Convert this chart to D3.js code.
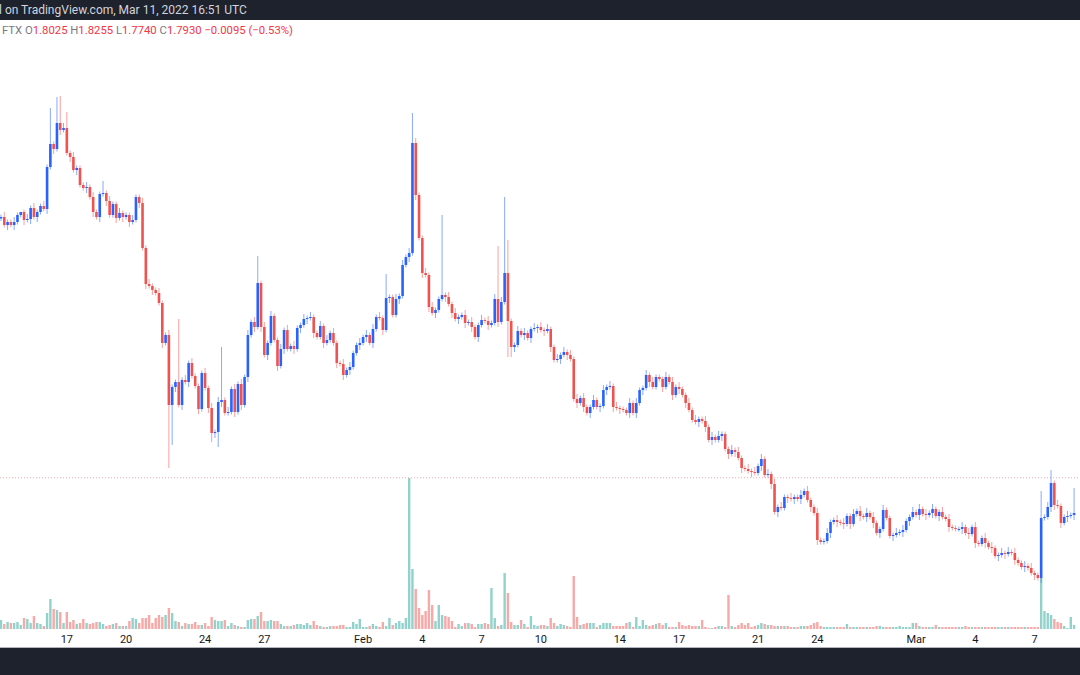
<!DOCTYPE html>
<html lang="en">
<head>
<meta charset="UTF-8">
<title>FTX 4h candles</title>
<script src="https://cdn.jsdelivr.net/npm/d3@7/dist/d3.min.js"></script>
<style>
  body { margin: 0; background: #fff; }
  svg { display: block; font-family: Roboto, "Liberation Sans", sans-serif; }
</style>
</head>
<body>
<svg id="main" width="1080" height="675"></svg>
<script>
// 4h candles, first one opens Jan 13 2022 16:00 UTC
const startTime = Date.UTC(2022, 0, 13, 16);
const firstOpen = 2.830;

const closes = [
  2.836,2.804,2.816,2.804,2.816,2.844,2.856,2.824,2.828,2.872,
  2.836,2.856,2.880,2.868,3.036,3.128,3.108,3.212,3.184,3.192,
  3.092,3.076,3.024,3.032,2.964,2.952,2.956,2.916,2.856,2.836,
  2.928,2.932,2.900,2.844,2.888,2.832,2.852,2.836,2.844,2.816,
  2.824,2.916,2.892,2.712,2.568,2.560,2.544,2.532,2.492,2.332,
  2.364,2.084,2.156,2.176,2.084,2.184,2.176,2.252,2.200,2.160,
  2.068,2.212,2.152,2.072,1.972,1.976,2.096,2.104,2.052,2.056,
  2.148,2.056,2.168,2.084,2.196,2.364,2.416,2.396,2.572,2.396,
  2.284,2.332,2.440,2.344,2.240,2.308,2.384,2.308,2.320,2.308,
  2.392,2.404,2.428,2.432,2.436,2.372,2.356,2.400,2.332,2.344,
  2.372,2.332,2.252,2.248,2.204,2.224,2.236,2.292,2.324,2.332,
  2.356,2.364,2.332,2.388,2.436,2.432,2.384,2.512,2.516,2.444,
  2.508,2.520,2.644,2.676,2.692,3.132,2.924,2.752,2.612,2.604,
  2.476,2.452,2.464,2.508,2.524,2.516,2.488,2.452,2.428,2.436,
  2.444,2.412,2.416,2.396,2.356,2.404,2.424,2.420,2.404,2.412,
  2.508,2.416,2.496,2.612,2.420,2.316,2.324,2.380,2.364,2.372,
  2.352,2.388,2.392,2.396,2.384,2.380,2.388,2.316,2.264,2.268,
  2.284,2.296,2.284,2.268,2.108,2.092,2.112,2.076,2.052,2.076,
  2.104,2.076,2.080,2.144,2.156,2.160,2.076,2.072,2.068,2.064,
  2.052,2.092,2.052,2.092,2.144,2.152,2.204,2.176,2.156,2.196,
  2.188,2.156,2.196,2.176,2.124,2.156,2.148,2.124,2.092,2.064,
  2.024,2.016,2.028,2.020,1.996,1.944,1.956,1.944,1.960,1.968,
  1.908,1.888,1.904,1.896,1.872,1.832,1.828,1.820,1.816,1.812,
  1.840,1.868,1.804,1.808,1.768,1.656,1.676,1.672,1.716,1.712,
  1.708,1.716,1.708,1.724,1.740,1.704,1.676,1.652,1.544,1.536,
  1.540,1.572,1.616,1.624,1.616,1.612,1.608,1.640,1.608,1.648,
  1.660,1.640,1.636,1.652,1.636,1.612,1.572,1.588,1.664,1.632,
  1.560,1.564,1.572,1.576,1.584,1.620,1.636,1.656,1.644,1.668,
  1.648,1.644,1.652,1.668,1.640,1.656,1.636,1.628,1.596,1.592,
  1.588,1.588,1.596,1.572,1.568,1.596,1.532,1.528,1.552,1.532,
  1.516,1.512,1.480,1.484,1.492,1.488,1.496,1.492,1.464,1.452,
  1.436,1.440,1.432,1.412,1.404,1.392,1.632,1.636,1.676,1.772,
  1.684,1.680,1.612,1.636,1.640,1.644,1.652
];

// upper / lower wick beyond the body, in 0.01 steps
const wickUp = "1211210121" + "2112131212" + "2121112121" + "1212112111" + "2112121121" +
  "1211212121" + "1121212112" + "1212121211" + "2121121212" + "1121211212" +
  "1211212112" + "1212121111" + "2121212112" + "1211212121" + "1212112121" +
  "2121211212" + "1121212112" + "1212121211" + "2112121211" + "1212112121" +
  "1121212112" + "1211212121" + "1121211212" + "1212121211" + "2112121121" +
  "1211212112" + "1212121121" + "1121211212" + "1212112121" + "1121212112" +
  "1211212121" + "1212112121" + "1211212";
const wickDn = "1121211212" + "1211212121" + "1212112121" + "2121121212" + "1121212112" +
  "1212121211" + "2112121211" + "1212121212" + "1211212112" + "1212121121" +
  "1121212112" + "1212112121" + "1211212121" + "2121121212" + "1212121121" +
  "1211212112" + "1212121211" + "2121121212" + "1121212121" + "1212121211" +
  "1211212121" + "1121212112" + "1212121121" + "1211212112" + "1212112121" +
  "1121212121" + "1212121211" + "1211212112" + "1212121121" + "1121212112" +
  "1212121121" + "1211212112" + "2121212";

// long wicks: index -> [high, low]
const longWicks = {
  15: [3.272, null], 17: [3.316, null], 18: [3.320, null], 20: [3.256, null],
  31: [2.980, null], 51: [null, 1.832], 52: [null, 1.924], 54: [2.428, null],
  64: [null, 1.936], 66: [null, 1.916], 67: [2.316, null], 78: [2.680, null],
  117: [2.608, null], 125: [3.252, null], 134: [2.844, null], 151: [2.720, null],
  153: [2.916, null], 154: [2.744, 2.276], 155: [null, 2.276],
  316: [1.740, null], 319: [1.824, null], 326: [1.752, null]
};

const volumes = [
  9,5,7,6,6,7,4,11,10,6, 13,6,5,3,16,30,20,19,17,6, 17,7,9,5,6,10,6,5,6,7,
  7,5,3,4,5,6,3,3,3,8, 11,10,6,11,11,14,6,11,14,12, 14,21,16,8,7,3,6,5,5,7,
  4,4,6,3,12,9,8,8,9,3, 6,4,3,2,2,9,10,10,13,17, 8,8,9,8,8,5,3,3,3,4,
  5,5,4,6,4,8,4,3,2,2, 3,3,3,4,4,2,2,7,5,10, 2,2,3,5,3,2,7,3,11,4,
  6,8,6,11,151,60,40,21,14,18, 39,24,8,24,14,13,12,8,2,5, 3,6,6,5,2,5,5,6,5,41,
  11,3,4,56,36,7,4,4,9,5, 2,13,4,3,
  4,4,3,11,6,3,5,4,3,2, 53,12,4,5,6,6,6,2,4,6, 6,6,3,3,3,3,6,7,2,12,
  3,9,4,3,4,5,6,4,6,2, 2,2,7,4,3,4,3,3,3,9, 2,1,1,2,3,3,2,34,3,2,
  4,6,4,6,2,3,4,6,5,4, 4,3,3,3,3,3,2,2,2,3, 3,3,4,6,7,3,2,2,2,2,
  2,2,2,5,2,2,2,2,2,2, 2,2,3,3,2,2,2,2,2,3, 2,2,2,6,6,3,2,2,2,2,
  4,2,2,2,2,2,2,2,2,3, 2,2,2,2,2,2,2,2,2,2, 2,2,2,2,2,2,2,2,2,2,
  2,2,51,18,16,14,10,7,6,3,1,12,4
];

const tickDates = [[0,17],[0,20],[0,24],[0,27],[1,1],[1,4],[1,7],[1,10],[1,14],[1,17],[1,21],[1,24],[2,1],[2,4],[2,7]];
const monthNames = ["Jan", "Feb", "Mar"];

const legendParts = [["FTX  ", "#787b86"], ["O", "#787b86"], ["1.8025 ", "#f23645"], ["H", "#787b86"], ["1.8255 ", "#f23645"],
  ["L", "#787b86"], ["1.7740 ", "#f23645"], ["C", "#787b86"], ["1.7930 ", "#f23645"], ["−0.0095 (−0.53%)", "#f23645"]];
const lastClose = 1.7930;

const H4 = 4 * 3600 * 1000;
const candles = closes.map((c, i) => {
  const o = i === 0 ? firstOpen : closes[i - 1];
  const lw = longWicks[i] || [null, null];
  const hi = lw[0] !== null ? lw[0] : Math.max(o, c) + (+wickUp[i] || 0) * 0.01;
  const lo = lw[1] !== null ? lw[1] : Math.min(o, c) - (+wickDn[i] || 0) * 0.01;
  return { t: new Date(startTime + i * H4), o, c, hi, lo, v: volumes[i] || 0 };
});

const svg = d3.select("#main");
const W = 1080;

const x = d3.scaleUtc()
  .domain([new Date(startTime), new Date(startTime + 55 * 24 * 3600 * 1000)])
  .range([1, 1 + 55 * 19.75]);
const y = d3.scaleLinear().domain([3.704, 1.004]).range([0, 675]);
const yv = d3.scaleLinear().domain([0, 151]).range([629, 478]);

const up = "#2962ff", down = "#ef5350";
const volUp = "#92d2cc", volDown = "#f7a9a7";

// volume
svg.append("g").selectAll("rect").data(candles).join("rect")
  .attr("x", d => x(d.t) - 1.2).attr("width", 2.4)
  .attr("y", d => yv(d.v)).attr("height", d => yv(0) - yv(d.v))
  .attr("fill", d => d.c >= d.o ? volUp : volDown);

// last price line
svg.append("line")
  .attr("x1", 0).attr("x2", W).attr("y1", y(lastClose)).attr("y2", y(lastClose))
  .attr("stroke", "#f7a9a7").attr("stroke-width", 1).attr("stroke-dasharray", "1,2");

// candles
const cg = svg.append("g");
cg.selectAll("line").data(candles).join("line")
  .attr("x1", d => x(d.t)).attr("x2", d => x(d.t))
  .attr("y1", d => y(d.hi)).attr("y2", d => y(d.lo))
  .attr("stroke", d => d.c >= d.o ? up : down).attr("stroke-opacity", 0.55).attr("stroke-width", 1);
cg.selectAll("rect").data(candles).join("rect")
  .attr("x", d => x(d.t) - 1.3).attr("width", 2.6)
  .attr("y", d => y(Math.max(d.o, d.c)))
  .attr("height", d => Math.max(1, Math.abs(y(d.o) - y(d.c))))
  .attr("fill", d => d.c >= d.o ? up : down);

// time axis labels
svg.append("g").selectAll("text").data(tickDates).join("text")
  .attr("x", d => x(new Date(Date.UTC(2022, d[0], d[1]))))
  .attr("y", 643).attr("text-anchor", "middle")
  .attr("font-size", 11).attr("fill", "#131722")
  .text(d => d[1] === 1 ? monthNames[d[0]] : d[1]);

// footer
svg.append("rect").attr("x", 0).attr("y", 647).attr("width", W).attr("height", 1).attr("fill", "#b2b5be");
svg.append("rect").attr("x", 0).attr("y", 648).attr("width", W).attr("height", 27).attr("fill", "#1e222d");

// header
svg.append("rect").attr("x", 0).attr("y", 0).attr("width", W).attr("height", 20).attr("fill", "#1e222d");
svg.append("text").attr("x", -1).attr("y", 14).attr("font-size", 12).attr("fill", "#d1d4dc")
  .text("l on TradingView.com, Mar 11, 2022 16:51 UTC");

const leg = svg.append("text").attr("x", 2).attr("y", 34).attr("font-size", 11.3);
legendParts.forEach(p => leg.append("tspan").attr("fill", p[1]).text(p[0]));
</script>
</body>
</html>
